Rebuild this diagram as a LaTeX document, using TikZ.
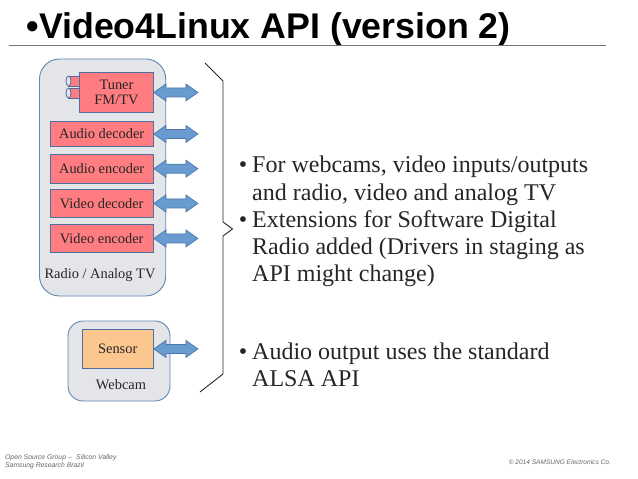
\documentclass[tikz,border=0pt]{standalone}
\usepackage{fontspec}
\setmainfont{Liberation Serif}
\newfontfamily\arialfont{Liberation Sans}
\usetikzlibrary{calc}
\definecolor{panelfill}{HTML}{E4E5E8}
\definecolor{panelline}{HTML}{5F86B5}
\definecolor{redfill}{HTML}{FF7C80}
\definecolor{orangefill}{HTML}{FCC78F}
\definecolor{boxline}{HTML}{4F6F9E}
\definecolor{arrowfill}{HTML}{6A9BD0}
\definecolor{arrowline}{HTML}{4A78AE}
\definecolor{footgray}{HTML}{666666}
\definecolor{rulegray}{HTML}{777777}
\newcommand{\bulletmark}{\llap{\textbullet\hspace{5pt}}}
\tikzset{
  x=1pt,y=-1pt,
  panel/.style={draw=panelline,line width=0.9pt,fill=panelfill,rounded corners=#1},
  chip/.style={draw=boxline,line width=0.9pt,fill=redfill,inner sep=0pt,font=\fontsize{14.4}{15.5}\selectfont,align=center,text=black!85,anchor=north west},
  bidi/.style={draw=arrowline,line width=0.7pt,fill=arrowfill,line join=miter},
  paneltext/.style={font=\fontsize{14.4}{17}\selectfont,text=black!85},
  bullet/.style={font=\fontsize{24}{27.2}\selectfont,text=black!85,anchor=north west,align=left,inner sep=0pt},
  foot/.style={font=\arialfont\itshape\fontsize{6.8}{8.2}\selectfont,text=footgray,inner sep=0pt,align=left},
  plug/.style={draw=boxline,line width=0.8pt,fill=redfill}
}
\begin{document}
\begin{tikzpicture}
\useasboundingbox (0,0) rectangle (638,479);
\fill[white] (0,0) rectangle (638,479);
% title
\node[font=\arialfont\bfseries\fontsize{35.7}{40}\selectfont,anchor=base west,inner sep=0pt] (title) at (26.5,38.5) {\textbullet Video4Linux API (version 2)};
\coordinate (ruleL) at (9,45); \coordinate (ruleR) at (606,45);
\draw[rulegray,line width=0.7pt] (ruleL) -- (ruleR);
% panels
\draw[panel=20pt] (39.5,59) rectangle (165.7,296);
\draw[panel=15pt] (68,321) rectangle (170,401);
% tuner plugs
\foreach \yy in {76,88}{
  \draw[plug] (68.5,\yy) rectangle (82,\yy+10);
  \draw[plug,fill=panelfill] (68.5,\yy+5) ellipse[x radius=2.5pt,y radius=5pt];
}
% chips
\node[chip,minimum width=74pt,minimum height=40pt] (tuner) at (79,72) {Tuner\\FM/TV};
\node[chip,minimum width=103.5pt,minimum height=25pt] (adec) at (49.5,121) {Audio decoder};
\node[chip,minimum width=103.5pt,minimum height=28.5pt] (aenc) at (49.5,154) {Audio encoder};
\node[chip,minimum width=103.5pt,minimum height=28pt] (vdec) at (49.5,189) {Video decoder};
\node[chip,minimum width=103.5pt,minimum height=28pt] (venc) at (49.5,224) {Video encoder};
\node[chip,fill=orangefill,minimum width=71.5pt,minimum height=39pt] (sensor) at (81.5,329) {Sensor};
% labels
\node[paneltext] (radio) at (100,275) {Radio / Analog TV};
\node[paneltext] (webcam) at (121,385) {Webcam};
% arrows
\foreach \n in {tuner,adec,aenc,vdec,venc,sensor}{
  \draw[bidi] (\n.east) -- ++(12,-8.5) -- ++(0,4) -- ++(20,0) -- ++(0,-4) -- ++(12,8.5) -- ++(-12,8.5) -- ++(0,-4) -- ++(-20,0) -- ++(0,4) -- cycle;
}
% brace
\coordinate (b1) at (205,63); \coordinate (b2) at (223,81); \coordinate (b3) at (223,222);
\coordinate (b4) at (232.5,229); \coordinate (b5) at (223,236); \coordinate (b6) at (223,374); \coordinate (b7) at (200,392);
\draw[black!85,line width=0.9pt] (b1) -- (b2) -- (b3) -- (b4) -- (b5) -- (b6) -- (b7);
% bullets
\node[bullet] (t1) at (252,156) {\bulletmark For webcams, video inputs/outputs\\and radio, video and analog TV\\\bulletmark Extensions for Software Digital\\Radio added (Drivers in staging as\\API might change)};
\node[bullet] (t2) at (252,342.5) {\bulletmark Audio output uses the standard\\ALSA API};
% footer
\node[foot,anchor=north west] (f1) at (5,454.5) {Open Source Group -- \ Silicon Valley\\Samsung Research Brazil};
\node[foot,anchor=east,font=\arialfont\itshape\fontsize{6.55}{7.6}\selectfont] (f2) at (611,462) {© 2014 SAMSUNG Electronics Co.};
\end{tikzpicture}
\end{document}
